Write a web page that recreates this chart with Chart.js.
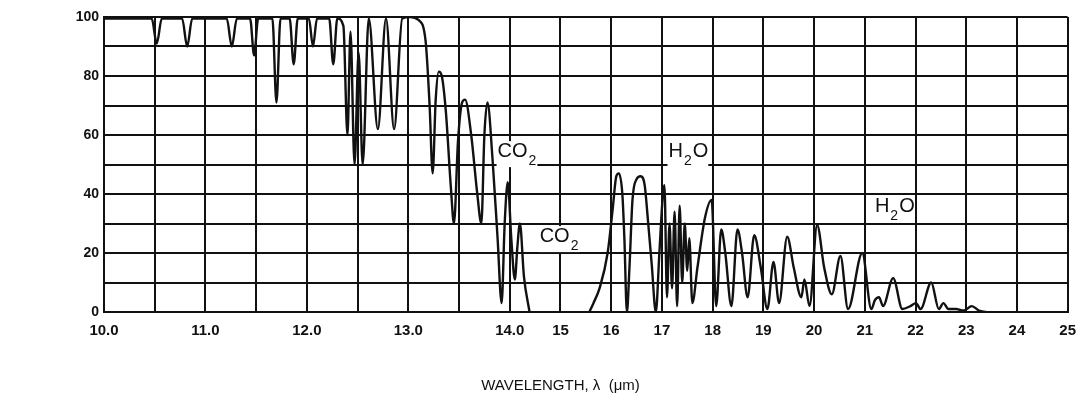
<!DOCTYPE html>
<html lang="en">
<head>
<meta charset="UTF-8">
<title>Transmission vs wavelength</title>
<script src="https://cdn.jsdelivr.net/npm/chart.js"></script>
<style>
  html, body { margin: 0; background: #fff; }
  canvas { display: block; }
</style>
</head>
<body>
<canvas id="spectrum" width="1086" height="404"></canvas>
<script>
// short-wave band, 10 - 14.4 um
const wlA = [10.00, 10.47, 10.52, 10.57, 10.77, 10.82, 10.87, 11.21, 11.26, 11.31,
  11.44, 11.48, 11.52, 11.66, 11.70, 11.74, 11.83, 11.87, 11.91, 12.02,
  12.06, 12.10, 12.22, 12.26, 12.30, 12.36, 12.40, 12.43, 12.47, 12.51,
  12.55, 12.61, 12.70, 12.78, 12.86, 12.94, 13.02, 13.10, 13.17, 13.21,
  13.24, 13.27, 13.30, 13.33, 13.37, 13.42, 13.45, 13.49, 13.53, 13.56,
  13.62, 13.68, 13.72, 13.75, 13.78, 13.83, 13.88, 13.92, 13.95, 13.98,
  14.03, 14.10, 14.15, 14.20, 14.28, 14.39]
const transA = [99.5, 99.5, 91, 99.5, 99.5, 90, 99.5, 99.5, 90, 99.5,
  99.5, 87, 99.5, 99.5, 71, 99.5, 99.5, 84, 99.5, 99.5,
  90, 99.5, 99.5, 84, 99.5, 97, 60, 95, 50, 88,
  50, 99.5, 62, 99.5, 62, 99.5, 100, 99, 92, 70,
  47, 72, 81.5, 80, 68, 42, 30, 58, 71, 72,
  60, 40, 30, 60, 71, 52, 25, 3, 30, 44,
  25, 11, 22, 30, 12, 0]

// long-wave band, 15.5 - 23.4 um
const wlB = [15.57, 15.65, 15.77, 15.93, 16.03, 16.10, 16.15, 16.22, 16.26, 16.31,
  16.36, 16.42, 16.50, 16.58, 16.66, 16.73, 16.80, 16.88, 16.95, 17.02,
  17.05, 17.10, 17.15, 17.20, 17.25, 17.30, 17.35, 17.40, 17.45, 17.50,
  17.54, 17.60, 17.70, 17.85, 17.98, 18.07, 18.17, 18.25, 18.37, 18.49,
  18.58, 18.69, 18.82, 18.95, 19.08, 19.20, 19.31, 19.47, 19.60, 19.75,
  19.81, 19.91, 20.06, 20.20, 20.35, 20.52, 20.67, 20.95, 21.13, 21.20,
  21.28, 21.36, 21.56, 21.74, 21.90, 22.01, 22.10, 22.31, 22.46, 22.55,
  22.65, 22.80, 22.95, 23.11, 23.25, 23.39]
const transB = [0, 3, 8, 20, 35, 46, 47, 40, 25, 0,
  15, 38, 45, 46, 43, 30, 16, 0, 20, 40,
  43, 5, 30, 8, 34, 2, 36, 10, 30, 14,
  25, 3, 15, 32, 38, 2, 28, 20, 2, 28,
  20, 5, 26, 15, 1, 17, 3, 25.5, 15, 5,
  11, 2, 29.5, 15, 6, 19, 1, 20, 1, 4,
  5, 2, 11.5, 1, 2, 3, 1, 10, 1, 3,
  1, 1, 0.5, 2, 0.5, 0]

// one grid column = 0.5 um below 14 um, 1 um above
const xTickLabels = ['10.0', '', '11.0', '', '12.0', '', '13.0', '', '14.0',
  '15', '16', '17', '18', '19', '20', '21', '22', '23', '24', '25']
const yTickLabels = [0, 20, 40, 60, 80, 100]

const axisTitle = 'WAVELENGTH, \u03bb  (\u03bcm)'

// band labels: [main, subscript, tail, wavelength, transmission at baseline]
const bandLabels = [
  ['CO', '2', '', 13.88, 52.5],
  ['CO', '2', '', 14.59, 23.7],
  ['H', '2', 'O', 17.13, 52.5],
  ['H', '2', 'O', 21.2, 33.9]
]

function pos(w) {
  return w <= 14 ? (w - 10) * 2 : 8 + (w - 14)
}

function toPoints(wl, tr) {
  return wl.map((w, i) => ({ x: pos(w), y: tr[i] }))
}

const ink = '#111'
const FONT = "'Liberation Sans', Arial, sans-serif"

const labelPlugin = {
  id: 'bandLabels',
  beforeDatasetsDraw(chart) {
    const { ctx, scales: { x, y } } = chart
    ctx.save()
    ctx.fillStyle = ink
    ctx.textBaseline = 'alphabetic'
    ctx.textAlign = 'left'
    bandLabels.forEach(([main, sub, tail, w, t]) => {
      let px = x.getPixelForValue(pos(w))
      const py = y.getPixelForValue(t)
      ctx.font = '20px ' + FONT
      const w1 = ctx.measureText(main).width
      ctx.font = '14px ' + FONT
      const w2 = ctx.measureText(sub).width
      ctx.font = '20px ' + FONT
      const w3 = ctx.measureText(tail).width
      ctx.fillStyle = '#fff'
      ctx.fillRect(px - 1, py - 16, w1 + w2 + w3 + 3, 26)
      ctx.fillStyle = ink
      ctx.fillText(main, px, py)
      px += w1 + 1
      ctx.font = '14px ' + FONT
      ctx.fillText(sub, px, py + 8)
      px += w2 + 1
      ctx.font = '20px ' + FONT
      ctx.fillText(tail, px, py)
    })
    ctx.restore()
  },
  afterDraw(chart) {
    const { ctx, scales: { x } } = chart
    ctx.save()
    ctx.fillStyle = ink
    ctx.font = '15px ' + FONT
    ctx.textAlign = 'center'
    ctx.textBaseline = 'middle'
    ctx.fillText(axisTitle, x.getPixelForValue(pos(15)), 386)
    ctx.restore()
  }
}

const lineStyle = {
  borderColor: ink,
  borderWidth: 2.4,
  pointRadius: 0,
  fill: false,
  cubicInterpolationMode: 'monotone'
}

new Chart(document.getElementById('spectrum'), {
  type: 'line',
  data: {
    datasets: [
      { label: 'band A', data: toPoints(wlA, transA), ...lineStyle },
      { label: 'band B', data: toPoints(wlB, transB), ...lineStyle }
    ]
  },
  options: {
    responsive: false,
    animation: false,
    layout: { padding: { top: 17, right: 16, left: 0, bottom: 0 } },
    plugins: {
      legend: { display: false },
      tooltip: { enabled: false }
    },
    scales: {
      x: {
        type: 'linear',
        min: 0,
        max: 19,
        afterFit(s) { s.height = 92 },
        grid: { color: ink, lineWidth: 2, drawTicks: false },
        border: { color: ink, width: 2 },
        ticks: {
          stepSize: 1,
          autoSkip: false,
          maxRotation: 0,
          padding: 10,
          color: ink,
          font: { family: FONT, size: 15, weight: 'bold' },
          callback: v => xTickLabels[v] ?? ''
        }
      },
      y: {
        min: 0,
        max: 100,
        afterFit(s) { s.width = 104 },
        grid: { color: ink, lineWidth: 2, drawTicks: false },
        border: { color: ink, width: 2 },
        ticks: {
          stepSize: 10,
          padding: 5,
          color: ink,
          font: { family: FONT, size: 14, weight: 'bold' },
          callback: v => yTickLabels.includes(v) ? v : ''
        }
      }
    }
  },
  plugins: [labelPlugin]
})
</script>
</body>
</html>
